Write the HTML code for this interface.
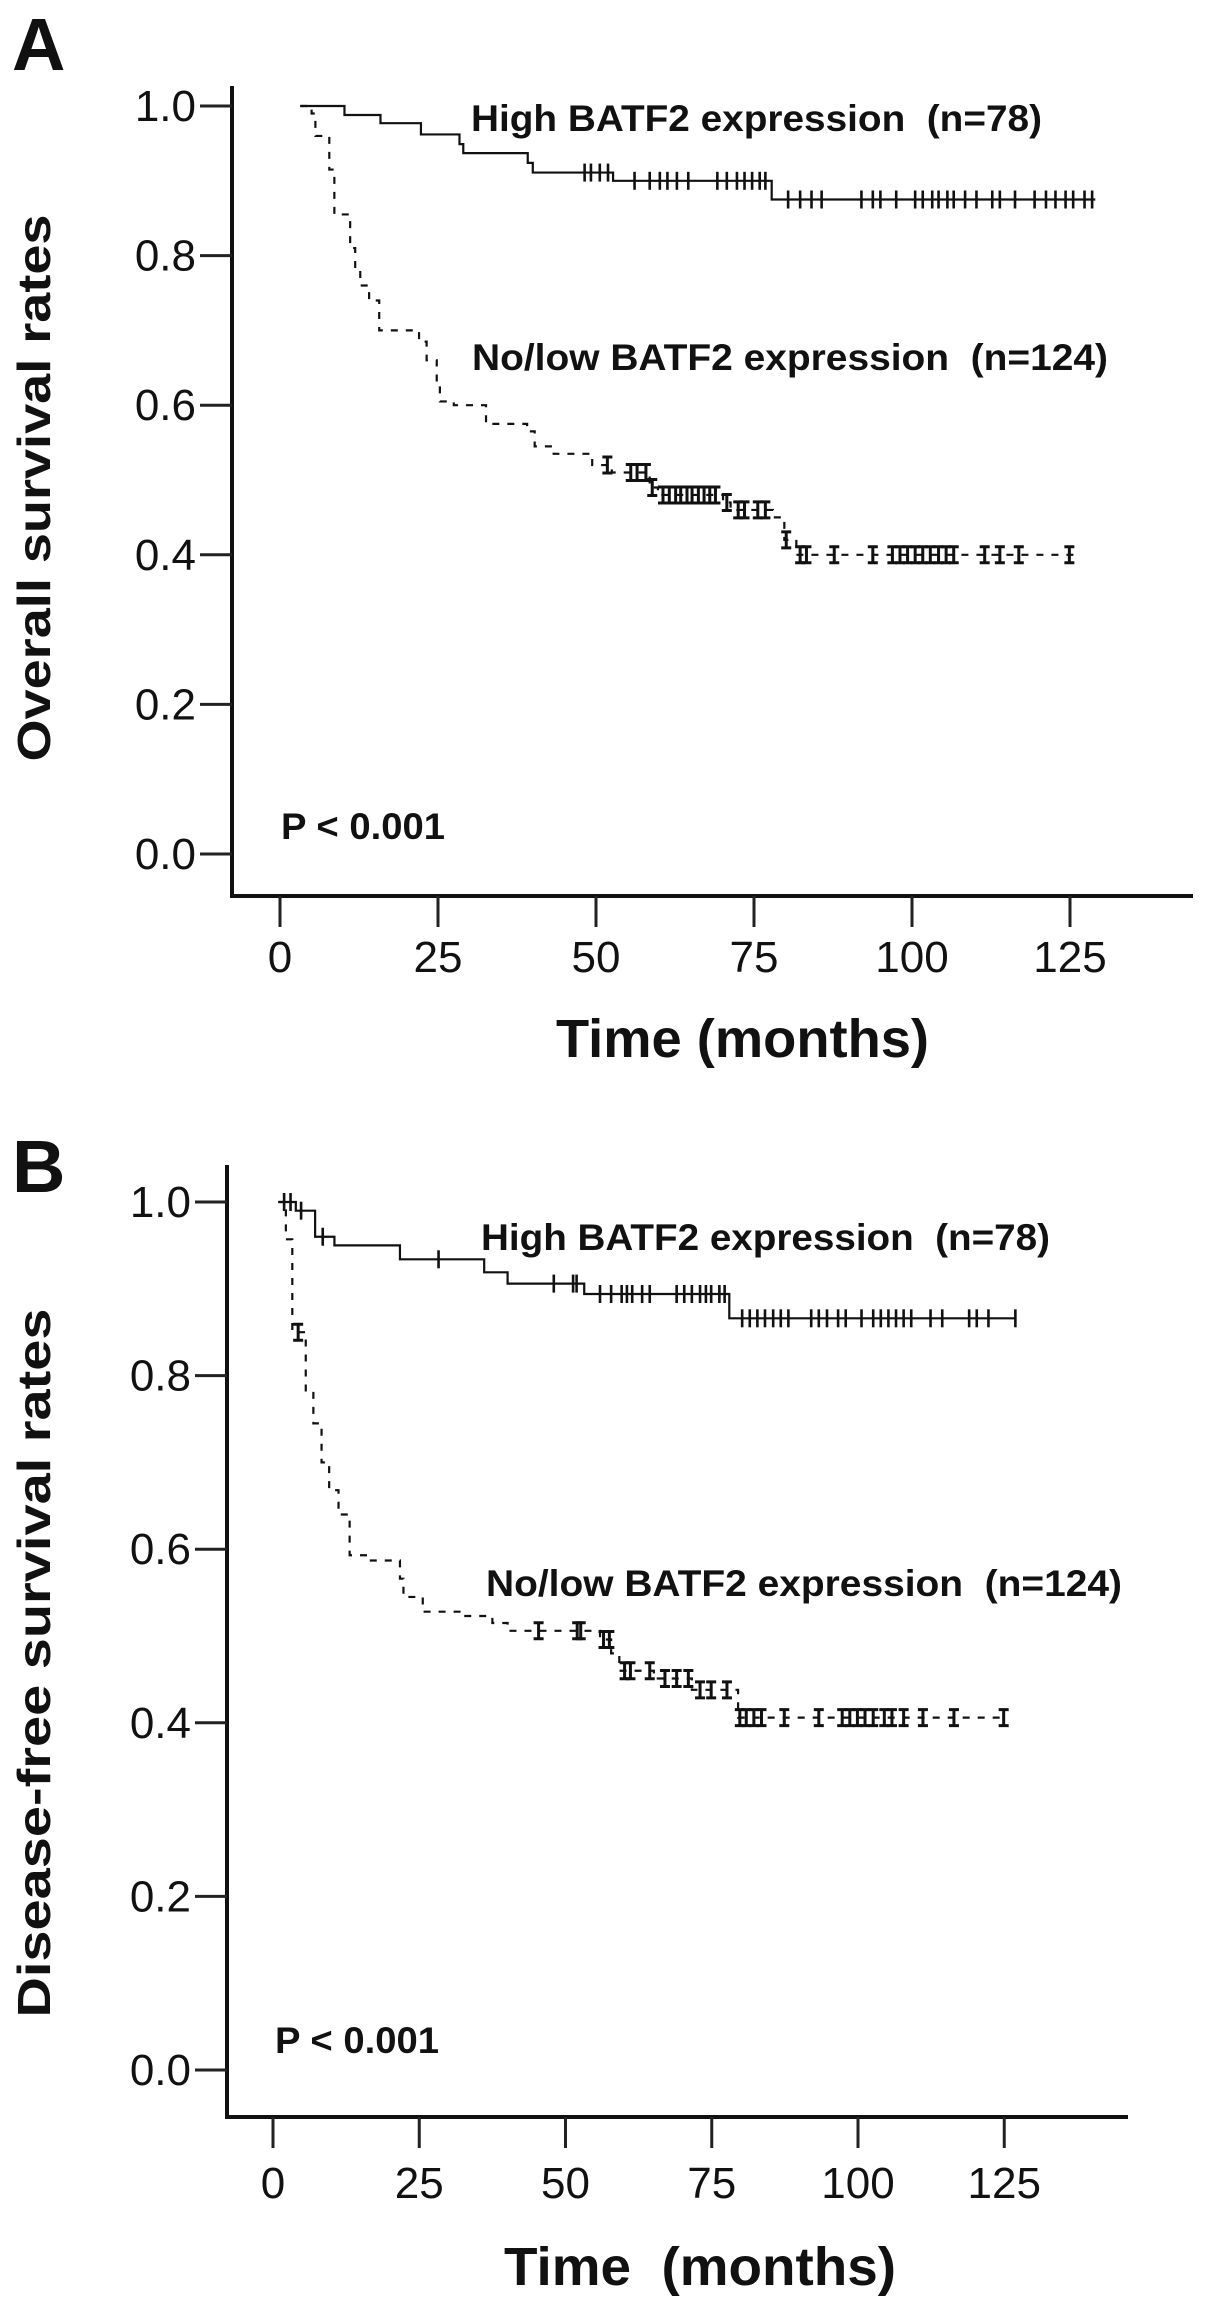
<!DOCTYPE html>
<html>
<head>
<meta charset="utf-8">
<style>
  html,body{margin:0;padding:0;background:#fff;}
  svg{display:block;}
  text{font-family:"Liberation Sans",Arial,sans-serif;fill:#111;white-space:pre;}
  .b{font-weight:bold;}
</style>
</head>
<body>
<svg id="fig" width="1205" height="2309" viewBox="0 0 1205 2309" xmlns="http://www.w3.org/2000/svg"></svg>
<script>
// ---------- Panel A data (Overall survival) ----------
const aHighTimes = [3.2,10.2,15.9,22.3,28.4,29.0,39.2,40.0,52.7,77.8];
const aHighVals  = [1.0,0.988,0.977,0.962,0.949,0.937,0.924,0.911,0.900,0.875];
const aHighEnd = 129;
const aHighCensor = [48.2,49.2,50.6,51.9,56.1,58.5,60.1,61.3,62.8,64.6,69.2,70.7,72.3,73.5,74.7,75.9,76.8,80.4,82.3,84.1,85.7,92.0,93.8,95.0,97.5,100.5,101.7,103.2,104.2,105.6,106.6,108.4,110.2,112.7,113.9,116.3,119.4,121.2,122.7,124.3,125.5,127.3,128.5];
const aLowTimes = [3.2,5.0,5.6,7.8,8.6,11.1,11.9,12.7,14.1,15.7,22.0,23.2,24.8,25.3,27.5,32.6,39.1,40.3,43.3,49.4,52.5,58.5,59.8,70.1,71.3,78.0,79.8,81.7];
const aLowVals  = [1.0,0.99,0.96,0.915,0.855,0.81,0.78,0.76,0.74,0.70,0.685,0.66,0.63,0.605,0.60,0.575,0.565,0.545,0.535,0.52,0.51,0.49,0.48,0.47,0.46,0.45,0.42,0.40];
const aLowEnd = 126.1;
const aLowCensor = [51.8,55.5,56.5,57.9,58.9,60.6,61.6,62.6,63.4,64.4,65.2,66.2,67.1,68.0,68.9,70.7,72.5,73.5,75.6,76.8,80.1,82.3,83.3,87.7,93.8,96.9,98.1,99.3,100.5,101.7,102.9,104.2,105.4,106.6,111.5,113.9,116.9,124.9];

// ---------- Panel B data (Disease-free survival) ----------
const bHighTimes = [0.9,3.9,7.2,10.5,21.7,36.1,40.1,53.2,78.0];
const bHighVals  = [1.0,0.99,0.96,0.95,0.934,0.919,0.906,0.894,0.866];
const bHighEnd = 126.9;
const bHighCensor = [1.9,3.0,4.8,8.5,28.3,48.0,51.3,51.9,55.9,57.8,59.6,60.5,61.4,63.1,64.4,69.0,70.3,71.6,73.0,74.0,74.9,76.3,77.2,80.2,81.5,82.8,84.1,85.5,86.8,88.1,92.0,93.3,94.7,96.6,97.9,100.6,102.6,103.9,105.2,106.5,107.8,109.1,112.4,114.4,119.0,120.3,122.3,126.9];
const bLowTimes = [0.9,2.2,3.3,5.6,6.9,8.3,9.6,11.2,13.1,16.4,21.7,22.3,25.6,32.2,37.5,40.1,55.9,57.8,59.2,65.1,71.6,79.5];
const bLowVals  = [1.0,0.957,0.85,0.78,0.745,0.70,0.668,0.64,0.593,0.587,0.566,0.545,0.528,0.523,0.515,0.506,0.496,0.48,0.46,0.451,0.438,0.406];
const bLowEnd = 124.9;
const bLowCensor = [4.3,45.4,52.0,52.6,56.5,57.5,60.1,61.1,64.4,67.0,69.0,71.0,73.0,74.9,77.6,79.8,80.9,82.2,83.5,87.4,93.3,97.3,98.6,99.9,101.2,102.6,104.5,105.8,107.8,111.1,116.4,124.9];

// ---------- Tick labels ----------
const yTickVals = [0.0,0.2,0.4,0.6,0.8,1.0];
const yTickLabels = ["0.0","0.2","0.4","0.6","0.8","1.0"];
const xTickVals = [0,25,50,75,100,125];
const xTickLabels = ["0","25","50","75","100","125"];

const NS = "http://www.w3.org/2000/svg";
const svg = document.getElementById('fig');
function mk(tag, attrs, parent){
  const e = document.createElementNS(NS, tag);
  for (const k in attrs) e.setAttribute(k, attrs[k]);
  (parent||svg).appendChild(e);
  return e;
}

function stepValue(times, vals, t){
  let v = vals[0];
  for (let i=0;i<times.length;i++){ if (times[i] <= t) v = vals[i]; }
  return v;
}

function drawPanel(cfg){
  const g = mk('g', {});
  
  
  const X = t => cfg.x0 + t*cfg.px;
  const Y = v => cfg.y0 - v*(cfg.y0 - cfg.y1);

  const letter = mk('text', {x:cfg.letterX, y:cfg.letterY, class:'b', 'font-size':74}, g);
  letter.textContent = cfg.letter;
  
  

  const axes = mk('path', {d:`M${cfg.axX},${cfg.axTop} V${cfg.axBottom} H${cfg.axRight}`, fill:'none', stroke:'#111', 'stroke-width':4}, g);
  
  

  yTickVals.forEach((v,i)=>{
    const y = Y(v);
    const tk = mk('line', {x1:cfg.axX-32, x2:cfg.axX, y1:y, y2:y, stroke:'#222', 'stroke-width':3}, g);
    
    
    const tl = mk('text', {x:cfg.axX-36, y:y+15, 'text-anchor':'end', 'font-size':44}, g);
    tl.textContent = yTickLabels[i];
    
    
  });
  xTickVals.forEach((t,i)=>{
    const x = X(t);
    const tk = mk('line', {x1:x, x2:x, y1:cfg.axBottom, y2:cfg.axBottom+31, stroke:'#222', 'stroke-width':3}, g);
    
    
    const tl = mk('text', {x:x, y:cfg.xLabY, 'text-anchor':'middle', 'font-size':44}, g);
    tl.textContent = xTickLabels[i];
    
    
  });

  const yt = mk('text', {x:0, y:0, class:'b', 'font-size':46, 'text-anchor':'middle',
    transform:`translate(${cfg.yTitleX},${cfg.yTitleY}) rotate(-90)`, textLength:cfg.yTitleLen, lengthAdjust:'spacingAndGlyphs'}, g);
  yt.textContent = cfg.yTitle;
  
  

  const xt = mk('text', {x:cfg.xTitleX, y:cfg.xTitleY, class:'b', 'font-size':54, textLength:cfg.xTitleLen, lengthAdjust:'spacingAndGlyphs'}, g);
  xt.textContent = cfg.xTitle;
  
  

  function curve(times, vals, end, censor, dashed, nm){
    let d = `M${X(times[0])},${Y(vals[0])}`;
    for (let i=1;i<times.length;i++){
      d += ` H${X(times[i])} V${Y(vals[i])}`;
    }
    d += ` H${X(end)}`;
    const p = mk('path', {d:d, fill:'none', stroke:'#111', 'stroke-width':2.2}, g);
    if (dashed) p.setAttribute('stroke-dasharray', '7 8');
    
    
    censor.forEach(t=>{
      const v = stepValue(times, vals, t);
      const cx = X(t), cy = Y(v);
      let md;
      if (dashed) md = `M${cx-5},${cy-8} H${cx+5} M${cx},${cy-8} V${cy+8} M${cx-5},${cy+8} H${cx+5}`;
      else md = `M${cx},${cy-9} V${cy+9}`;
      const c = mk('path', {d:md, fill:'none', stroke:'#111', 'stroke-width':dashed?3:2.6}, g);
      
      
    });
  }
  curve(cfg.highT, cfg.highV, cfg.highEnd, cfg.highC, false, 'high-batf2');
  curve(cfg.lowT, cfg.lowV, cfg.lowEnd, cfg.lowC, true, 'low-batf2');

  const hl = mk('text', {x:cfg.hiX, y:cfg.hiY, class:'b', 'font-size':37, textLength:cfg.hiLen, lengthAdjust:'spacingAndGlyphs'}, g);
  hl.textContent = 'High BATF2 expression  (n=78)';
  
  
  const ll = mk('text', {x:cfg.loX, y:cfg.loY, class:'b', 'font-size':37, textLength:cfg.loLen, lengthAdjust:'spacingAndGlyphs'}, g);
  ll.textContent = 'No/low BATF2 expression  (n=124)';
  
  
  const pv = mk('text', {x:cfg.pX, y:cfg.pY, class:'b', 'font-size':37, textLength:164, lengthAdjust:'spacingAndGlyphs'}, g);
  pv.textContent = 'P < 0.001';
  
  
}

drawPanel({
  name:'panel-a-overall-survival', letter:'A', letterX:12, letterY:70,
  x0:280, px:6.32, y0:854, y1:106,
  axX:232, axTop:86, axBottom:896, axRight:1193, xLabY:972,
  yTitle:'Overall survival rates', yTitleX:50, yTitleY:488, yTitleLen:547,
  xTitle:'Time (months)', xTitleX:556, xTitleY:1057, xTitleLen:373,
  highT:aHighTimes, highV:aHighVals, highEnd:aHighEnd, highC:aHighCensor,
  lowT:aLowTimes, lowV:aLowVals, lowEnd:aLowEnd, lowC:aLowCensor,
  hiX:471, hiY:131, hiLen:571, loX:472, loY:370, loLen:636, pX:281, pY:839
});
drawPanel({
  name:'panel-b-disease-free-survival', letter:'B', letterX:12, letterY:1192,
  x0:273, px:5.85, y0:2070, y1:1202,
  axX:227, axTop:1165, axBottom:2117, axRight:1128, xLabY:2198,
  yTitle:'Disease-free survival rates', yTitleX:50, yTitleY:1663, yTitleLen:709,
  xTitle:'Time  (months)', xTitleX:504, xTitleY:2285, xTitleLen:392,
  highT:bHighTimes, highV:bHighVals, highEnd:bHighEnd, highC:bHighCensor,
  lowT:bLowTimes, lowV:bLowVals, lowEnd:bLowEnd, lowC:bLowCensor,
  hiX:481, hiY:1250, hiLen:569, loX:486, loY:1596, loLen:636, pX:275, pY:2053
});
</script>
</body>
</html>
